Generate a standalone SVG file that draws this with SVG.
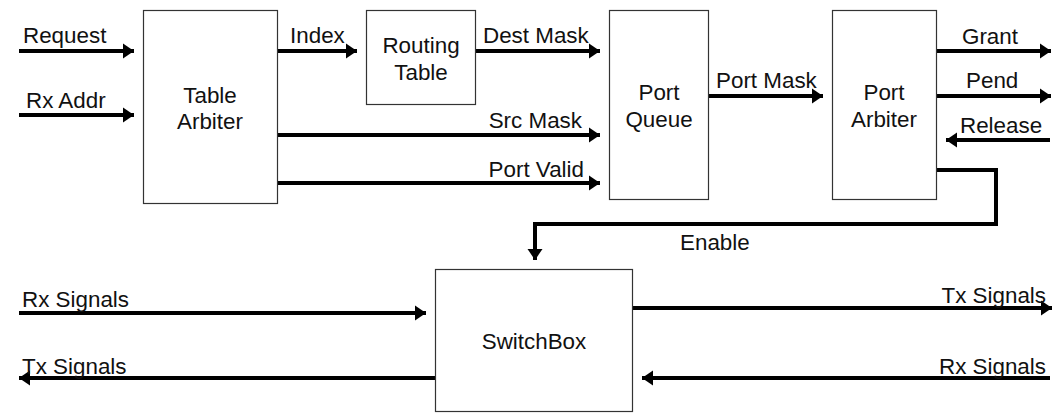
<svg xmlns="http://www.w3.org/2000/svg" width="1061" height="413" viewBox="0 0 1061 413">
<style>
.box{fill:#fff;stroke:#333;stroke-width:1.2}
.t{font-family:"Liberation Sans",Arial,sans-serif;font-size:22.4px;fill:#111}
.c{text-anchor:middle}
.e{text-anchor:end}
.w{fill:none;stroke:#000;stroke-width:4}
</style>
<defs>
<marker id="ah" markerWidth="12" markerHeight="16" refX="11" refY="8" orient="auto" markerUnits="userSpaceOnUse">
<path d="M0,0.5 L11,8 L0,15.5 Z" fill="#000"/>
</marker>
</defs>
<rect width="1061" height="413" fill="#fff"/>
<g id="connectors">
<path class="w" d="M19,51 H134" marker-end="url(#ah)"/>
<path class="w" d="M19,115 H134" marker-end="url(#ah)"/>
<path class="w" d="M277,51 H357" marker-end="url(#ah)"/>
<path class="w" d="M475,51 H600" marker-end="url(#ah)"/>
<path class="w" d="M277,135 H600" marker-end="url(#ah)"/>
<path class="w" d="M277,183 H600" marker-end="url(#ah)"/>
<path class="w" d="M708,96 H823" marker-end="url(#ah)"/>
<path class="w" d="M937,51 H1051" marker-end="url(#ah)"/>
<path class="w" d="M937,96 H1051" marker-end="url(#ah)"/>
<path class="w" d="M1050,140 H946" marker-end="url(#ah)"/>
<path class="w" d="M937,170 H996 V224 H535 V260" marker-end="url(#ah)"/>
<path class="w" d="M19,313 H426" marker-end="url(#ah)"/>
<path class="w" d="M435,378 H19" marker-end="url(#ah)"/>
<path class="w" d="M633,308 H1052" marker-end="url(#ah)"/>
<path class="w" d="M1050,378 H642" marker-end="url(#ah)"/>
</g>
<g id="table-arbiter">
<rect class="box" x="143.5" y="10.5" width="134" height="193"/>
<text class="t c" x="210" y="103">Table</text>
<text class="t c" x="210" y="129">Arbiter</text>
</g>
<g id="routing-table">
<rect class="box" x="366.5" y="10.5" width="109" height="94"/>
<text class="t c" x="421" y="53">Routing</text>
<text class="t c" x="421" y="80">Table</text>
</g>
<g id="port-queue">
<rect class="box" x="609.5" y="10.5" width="99" height="189"/>
<text class="t c" x="659" y="100">Port</text>
<text class="t c" x="659" y="127">Queue</text>
</g>
<g id="port-arbiter">
<rect class="box" x="832.5" y="10.5" width="104" height="189"/>
<text class="t c" x="884" y="100">Port</text>
<text class="t c" x="884" y="127">Arbiter</text>
</g>
<g id="switchbox">
<rect class="box" x="435.5" y="269.5" width="197" height="142"/>
<text class="t c" x="534" y="349">SwitchBox</text>
</g>
<g id="labels">
<text class="t" x="23" y="43">Request</text>
<text class="t" x="26" y="108">Rx Addr</text>
<text class="t" x="290" y="43">Index</text>
<text class="t" x="483" y="43">Dest Mask</text>
<text class="t e" x="582" y="128">Src Mask</text>
<text class="t e" x="584" y="177">Port Valid</text>
<text class="t" x="716" y="88">Port Mask</text>
<text class="t" x="962" y="44">Grant</text>
<text class="t" x="966" y="88">Pend</text>
<text class="t" x="960" y="133">Release</text>
<text class="t" x="680" y="250">Enable</text>
<text class="t" x="22" y="307">Rx Signals</text>
<text class="t" x="22" y="374">Tx Signals</text>
<text class="t e" x="1046" y="303">Tx Signals</text>
<text class="t e" x="1046" y="374">Rx Signals</text>
</g>
</svg>
